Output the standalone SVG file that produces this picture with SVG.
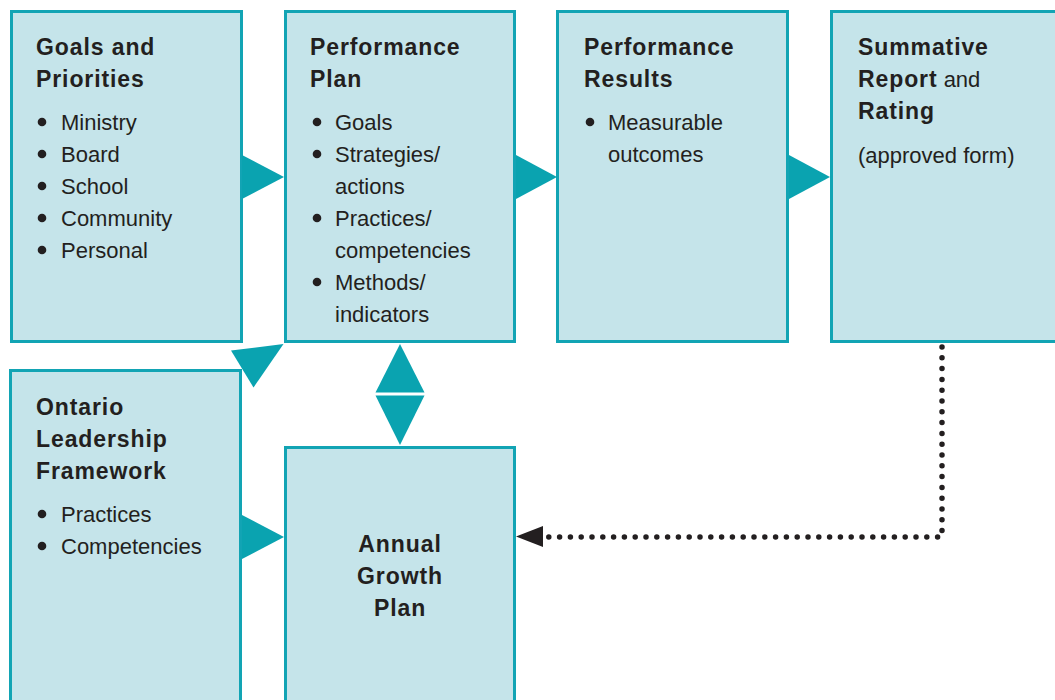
<svg xmlns="http://www.w3.org/2000/svg" width="1055" height="700" viewBox="0 0 1055 700">
<style>
.box{fill:#c5e4ea;stroke:#12a4b4;stroke-width:3}
.h{font-family:"Liberation Sans",Arial,sans-serif;font-weight:bold;font-size:23px;letter-spacing:0.9px;fill:#231f20}
.t{font-family:"Liberation Sans",Arial,sans-serif;font-size:22px;fill:#231f20}
.b{fill:#231f20}
.arr{fill:#0aa3b0}
</style>
<rect width="1055" height="700" fill="#ffffff"/>
<g id="goals">
<rect class="box" x="11.5" y="11.5" width="230" height="330"/>
<text class="h" x="36" y="55">Goals and</text>
<text class="h" x="36" y="87">Priorities</text>
<circle class="b" cx="42" cy="122" r="4.3"/><text class="t" x="61" y="130">Ministry</text>
<circle class="b" cx="42" cy="154" r="4.3"/><text class="t" x="61" y="162">Board</text>
<circle class="b" cx="42" cy="186" r="4.3"/><text class="t" x="61" y="194">School</text>
<circle class="b" cx="42" cy="218" r="4.3"/><text class="t" x="61" y="226">Community</text>
<circle class="b" cx="42" cy="250" r="4.3"/><text class="t" x="61" y="258">Personal</text>
</g>
<g id="performance-plan">
<rect class="box" x="285.5" y="11.5" width="229" height="330"/>
<text class="h" x="310" y="55">Performance</text>
<text class="h" x="310" y="87">Plan</text>
<circle class="b" cx="317" cy="122" r="4.3"/><text class="t" x="335" y="130">Goals</text>
<circle class="b" cx="317" cy="154" r="4.3"/><text class="t" x="335" y="162">Strategies/</text>
<text class="t" x="335" y="194">actions</text>
<circle class="b" cx="317" cy="218" r="4.3"/><text class="t" x="335" y="226">Practices/</text>
<text class="t" x="335" y="258">competencies</text>
<circle class="b" cx="317" cy="282" r="4.3"/><text class="t" x="335" y="290">Methods/</text>
<text class="t" x="335" y="322">indicators</text>
</g>
<g id="performance-results">
<rect class="box" x="557.5" y="11.5" width="230" height="330"/>
<text class="h" x="584" y="55">Performance</text>
<text class="h" x="584" y="87">Results</text>
<circle class="b" cx="590" cy="122" r="4.3"/><text class="t" x="608" y="130">Measurable</text>
<text class="t" x="608" y="162">outcomes</text>
</g>
<g id="summative">
<rect class="box" x="831.5" y="11.5" width="240" height="330"/>
<text class="h" x="858" y="55">Summative</text>
<text x="858" y="87"><tspan class="h">Report</tspan><tspan class="t"> and</tspan></text>
<text class="h" x="858" y="119">Rating</text>
<text class="t" x="858" y="163">(approved form)</text>
</g>
<g id="ontario">
<rect class="box" x="10.5" y="370.5" width="230" height="345"/>
<text class="h" x="36" y="415">Ontario</text>
<text class="h" x="36" y="447">Leadership</text>
<text class="h" x="36" y="479">Framework</text>
<circle class="b" cx="42" cy="514" r="4.3"/><text class="t" x="61" y="522">Practices</text>
<circle class="b" cx="42" cy="546" r="4.3"/><text class="t" x="61" y="554">Competencies</text>
</g>
<g id="annual">
<rect class="box" x="285.5" y="447.5" width="229" height="270"/>
<text class="h" x="400" y="552" text-anchor="middle">Annual</text>
<text class="h" x="400" y="584" text-anchor="middle">Growth</text>
<text class="h" x="400" y="616" text-anchor="middle">Plan</text>
</g>
<g id="connectors">
<polygon class="arr" points="242,155 284,177 242,199"/>
<polygon class="arr" points="516,155 557,177 516,199"/>
<polygon class="arr" points="789,155 830,177 789,199"/>
<polygon class="arr" points="242,515 284,537 242,559"/>
<polygon class="arr" points="231,350.5 283.5,344 253.5,387.5"/>
<polygon class="arr" points="400,344 424.5,392.5 375.5,392.5"/>
<polygon class="arr" points="375.5,395.5 424.5,395.5 400,445"/>
<path d="M942,347 V537 H545" fill="none" stroke="#231f20" stroke-width="5.5" stroke-linecap="round" stroke-dasharray="0 10.8"/>
<polygon fill="#231f20" points="516,536.5 543,526 543,547"/>
</g>
</svg>
